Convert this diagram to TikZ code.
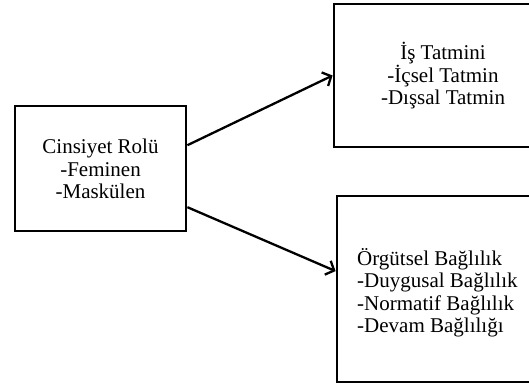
\documentclass[tikz,border=0pt]{standalone}
\usepackage{fontspec}
\setmainfont{Liberation Serif}
\usetikzlibrary{arrows.meta}
\begin{document}
\begin{tikzpicture}[x=1pt,y=-1pt,
  box/.style={draw, line width=2.8pt, inner sep=0pt},
  lbl/.style={font=\fontsize{21}{22.5}\selectfont, inner sep=0pt},
  conn/.style={line width=2.3pt, -{Straight Barb[length=7pt,width=15pt,line width=2.3pt]}}]
\useasboundingbox (0,0) rectangle (529,385);
\node[box, minimum width=171pt, minimum height=125pt] (rol) at (100.5,168.5) {};
\node[lbl, align=center] (roltext) at (100.5,169) {Cinsiyet Rolü\\-Feminen\\-Maskülen};
\node[box, minimum width=218pt, minimum height=143pt] (tatmin) at (443,75.5) {};
\node[lbl, align=center] (tatmintext) at (443,76) {İş Tatmini\\-İçsel Tatmin\\-Dışsal Tatmin};
\node[box, minimum width=223pt, minimum height=186pt] (bag) at (448.5,289) {};
\node[lbl, align=left, anchor=west] (bagtext) at (357,293) {Örgütsel Bağlılık\\-Duygusal Bağlılık\\-Normatif Bağlılık\\-Devam Bağlılığı};
\draw[conn] (rol.15.4) -- (tatmin.180);
\draw[conn] (rol.-24.2) -- (bag.171.8);
\end{tikzpicture}
\end{document}
